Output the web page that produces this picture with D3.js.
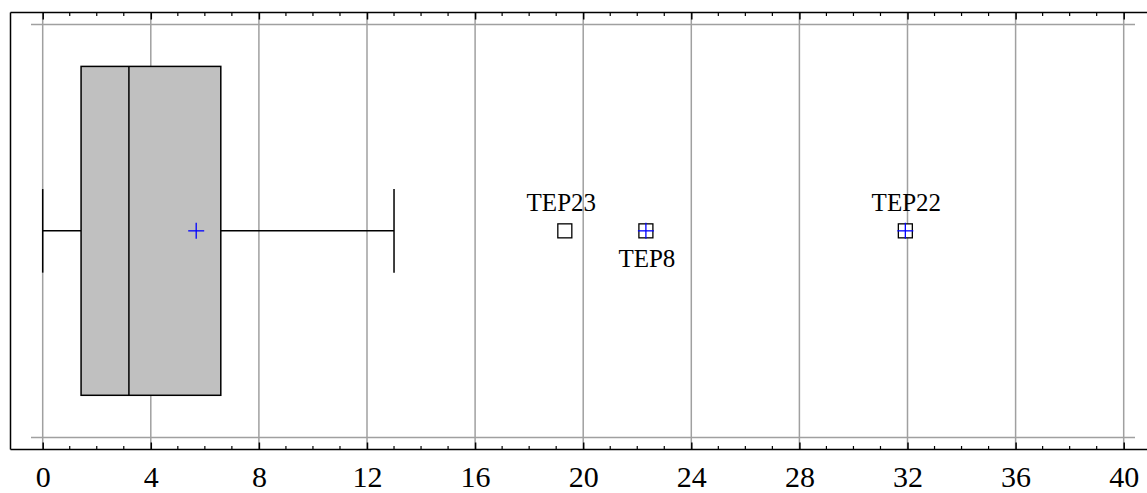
<!DOCTYPE html>
<html><head><meta charset="utf-8">
<script src="https://cdn.jsdelivr.net/npm/d3@7"></script>
<style>html,body{margin:0;padding:0;background:#fff;}svg{display:block;}</style>
</head><body>
<svg id="chart" width="1147" height="493"></svg>
<script>
// ---- data ----
const groups = ["All"];
const boxMin = [0];
const boxQ1 = [1.42];
const boxMedian = [3.19];
const boxQ3 = [6.59];
const boxMax = [13.0];
const boxMean = [5.68];
const outlierNames = ["TEP23", "TEP8", "TEP22"];
const outlierValues = [19.32, 22.32, 31.92];
const outlierExtreme = [false, true, true];
const outlierLabelPos = ["above", "below", "above"];
const xTicks = [0, 4, 8, 12, 16, 20, 24, 28, 32, 36, 40];
const xMinorTicks = d3.range(0, 41, 1);

// ---- layout ----
const svg = d3.select("#chart");
const frameL = 10.5, frameT = 12.5, frameB = 449.5, W = 1147;
const x = d3.scaleLinear().domain([0, 40]).range([42.7, 1123.7]);
const y = d3.scaleBand().domain(groups).range([24, 437.7]).paddingInner(0).paddingOuter(0);
const grid = "#a0a0a0";
const serif = "'Liberation Serif', 'Times New Roman', serif";

// horizontal grid lines
svg.append("g").selectAll("line").data([24.5, 437.5]).join("line")
  .attr("x1", 31).attr("x2", 1135).attr("y1", d => d).attr("y2", d => d)
  .attr("stroke", grid).attr("stroke-width", 1.5);

// vertical grid lines
svg.append("g").selectAll("line").data(xTicks).join("line")
  .attr("x1", d => x(d)).attr("x2", d => x(d)).attr("y1", frameT).attr("y2", frameB)
  .attr("stroke", grid).attr("stroke-width", 1.5);

// frame
svg.append("line").attr("x1", frameL).attr("x2", W).attr("y1", frameT).attr("y2", frameT).attr("stroke", "#000").attr("stroke-width", 1.5);
svg.append("line").attr("x1", frameL).attr("x2", W).attr("y1", frameB).attr("y2", frameB).attr("stroke", "#000").attr("stroke-width", 1.5);
svg.append("line").attr("x1", frameL).attr("x2", frameL).attr("y1", frameT).attr("y2", frameB).attr("stroke", "#000").attr("stroke-width", 1.5);

// minor ticks top & bottom
const minor = xMinorTicks.filter(d => d % 4 !== 0);
svg.append("g").selectAll("line").data(minor).join("line")
  .attr("x1", d => x(d)).attr("x2", d => x(d)).attr("y1", frameT).attr("y2", frameT + 3.5)
  .attr("stroke", "#000").attr("stroke-width", 1.2);
svg.append("g").selectAll("line").data(minor).join("line")
  .attr("x1", d => x(d)).attr("x2", d => x(d)).attr("y1", frameB).attr("y2", frameB - 3.5)
  .attr("stroke", "#000").attr("stroke-width", 1.2);

// major ticks via axes
const axTop = svg.append("g").attr("transform", `translate(0,${frameT})`)
  .call(d3.axisBottom(x).tickValues(xTicks).tickSize(7).tickFormat(""));
const axBot = svg.append("g").attr("transform", `translate(0,${frameB})`)
  .call(d3.axisBottom(x).tickValues(xTicks).tickSize(0).tickPadding(0).tickFormat(d3.format("d")));
axBot.attr("font-family", serif).attr("font-size", 30);
axTop.select(".domain").remove();
axTop.selectAll(".tick line").attr("stroke", "#000").attr("stroke-width", 1.5);
axBot.select(".domain").remove();
axBot.selectAll(".tick").append("line").attr("y1", 0).attr("y2", -7).attr("stroke", "#000").attr("stroke-width", 1.5);
axBot.selectAll(".tick text")
  .attr("y", 37).attr("dy", null)
  .style("font-family", serif)
  .style("font-size", "30px").attr("fill", "#000");

// box plot
const g = svg.append("g");
groups.forEach((grp, i) => {
  const band = y.bandwidth();
  const cy = y(grp) + band / 2;
  const boxH = band * 0.795;
  const capH = band * 0.101;
  // whiskers
  g.append("line").attr("x1", x(boxMin[i])).attr("x2", x(boxQ1[i])).attr("y1", cy).attr("y2", cy).attr("stroke", "#000").attr("stroke-width", 1.5);
  g.append("line").attr("x1", x(boxQ3[i])).attr("x2", x(boxMax[i])).attr("y1", cy).attr("y2", cy).attr("stroke", "#000").attr("stroke-width", 1.5);
  g.append("line").attr("x1", x(boxMin[i])).attr("x2", x(boxMin[i])).attr("y1", cy - capH).attr("y2", cy + capH).attr("stroke", "#000").attr("stroke-width", 1.5);
  g.append("line").attr("x1", x(boxMax[i])).attr("x2", x(boxMax[i])).attr("y1", cy - capH).attr("y2", cy + capH).attr("stroke", "#000").attr("stroke-width", 1.5);
  // box
  g.append("rect").attr("x", x(boxQ1[i])).attr("y", cy - boxH / 2)
    .attr("width", x(boxQ3[i]) - x(boxQ1[i])).attr("height", boxH)
    .attr("fill", "#c0c0c0").attr("stroke", "#000").attr("stroke-width", 1.5);
  g.append("line").attr("x1", x(boxMedian[i])).attr("x2", x(boxMedian[i])).attr("y1", cy - boxH / 2).attr("y2", cy + boxH / 2).attr("stroke", "#000").attr("stroke-width", 1.5);
  // mean
  const mx = x(boxMean[i]);
  g.append("line").attr("x1", mx - 8).attr("x2", mx + 8).attr("y1", cy).attr("y2", cy).attr("stroke", "#0000ff").attr("stroke-width", 1.3);
  g.append("line").attr("x1", mx).attr("x2", mx).attr("y1", cy - 8).attr("y2", cy + 8).attr("stroke", "#0000ff").attr("stroke-width", 1.3);

  // outliers
  outlierValues.forEach((v, j) => {
    const ox = x(v);
    g.append("rect").attr("x", ox - 7).attr("y", cy - 7).attr("width", 14).attr("height", 14)
      .attr("fill", "#fff").attr("stroke", "#000").attr("stroke-width", 1.3);
    if (outlierExtreme[j]) {
      g.append("line").attr("x1", ox - 8).attr("x2", ox + 8).attr("y1", cy).attr("y2", cy).attr("stroke", "#0000ff").attr("stroke-width", 1.3);
      g.append("line").attr("x1", ox).attr("x2", ox).attr("y1", cy - 8).attr("y2", cy + 8).attr("stroke", "#0000ff").attr("stroke-width", 1.3);
    }
    g.append("text").attr("x", ox + (j === 0 ? -3.5 : 1))
      .attr("y", outlierLabelPos[j] === "above" ? cy - 20 : cy + 36.5)
      .attr("text-anchor", "middle")
      .attr("font-family", serif)
      .attr("font-size", 25).attr("fill", "#000")
      .text(outlierNames[j]);
  });
});
</script>
</body></html>
